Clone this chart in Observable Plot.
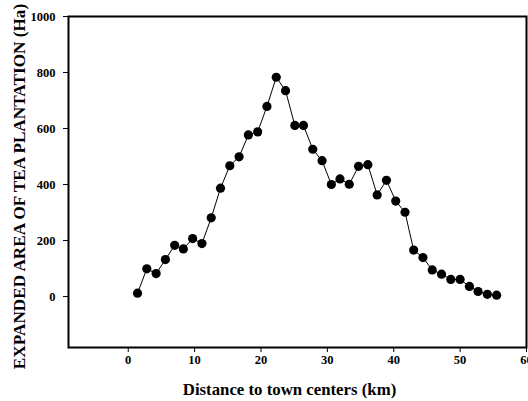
<!DOCTYPE html>
<html><head><meta charset="utf-8">
<script src="https://cdn.jsdelivr.net/npm/d3@7"></script>
<script src="https://cdn.jsdelivr.net/npm/@observablehq/plot@0.6"></script>
<style>
html,body{margin:0;padding:0;background:#fff;overflow:hidden;}
svg g[aria-label="x-axis tick label"], svg g[aria-label="y-axis tick label"] {
  font-size: 12.5px; font-weight: bold; font-family: 'Liberation Serif', 'Times New Roman', serif;
}
</style></head><body><div id="chart"></div>
<script>
const distance = [1.4, 2.8, 4.2, 5.6, 7.0, 8.3, 9.7, 11.1, 12.5, 13.9,
  15.3, 16.7, 18.1, 19.5, 20.9, 22.3, 23.7, 25.1, 26.4, 27.8,
  29.2, 30.6, 31.9, 33.3, 34.7, 36.1, 37.5, 38.9, 40.3, 41.7,
  43.0, 44.4, 45.8, 47.2, 48.6, 50.0, 51.4, 52.7, 54.1, 55.5];
const area = [12, 99, 82, 132, 183, 170, 207, 189, 281, 387,
  467, 499, 577, 588, 679, 783, 735, 611, 611, 526,
  485, 400, 420, 401, 465, 471, 363, 415, 341, 301,
  166, 139, 95, 80, 61, 61, 36, 18, 8, 5];
const xTicks = [0, 10, 20, 30, 40, 50, 60];
const yTicks = [0, 200, 400, 600, 800, 1000];
const xLabel = "Distance to town centers (km)";
const yLabel = "EXPANDED AREA OF TEA PLANTATION (Ha)";

const data = distance.map((d, i) => ({distance: d, area: area[i]}));
const serif = "'Liberation Serif', 'Times New Roman', serif";

const chart = Plot.plot({
  width: 528,
  height: 401,
  marginLeft: 68,
  marginRight: 2,
  marginTop: 16,
  marginBottom: 54,
  style: {
    fontFamily: serif,
    fontSize: "12px",
    fontWeight: "bold",
    color: "#000",
    background: "#fff"
  },
  x: {domain: [-9, 60]},
  y: {domain: [-182, 1000]},
  marks: [
    Plot.axisX(xTicks, {tickSize: 5, tickPadding: 3, label: null, tickFormat: d => String(d), fontSize: 12.5, fontWeight: "bold", fontFamily: serif}),
    Plot.axisY(yTicks, {tickSize: 5, tickPadding: 8, label: null, tickFormat: d => String(d), fontSize: 12.5, fontWeight: "bold", fontFamily: serif}),
    Plot.frame({stroke: "#000", strokeWidth: 2}),
    Plot.line(data, {x: "distance", y: "area", stroke: "#000", strokeWidth: 1}),
    Plot.dot(data, {x: "distance", y: "area", r: 4.6, fill: "#000", stroke: "none"}),
    Plot.text([xLabel], {text: d => d, frameAnchor: "bottom", textAnchor: "middle", dx: -8, dy: 36, lineAnchor: "top", fontSize: 16.8, fontWeight: "bold", fontFamily: serif}),
    Plot.text([yLabel], {text: d => d, frameAnchor: "left", textAnchor: "middle", rotate: -90, dx: -56, dy: 4.5, lineAnchor: "top", fontSize: 17.2, fontWeight: "bold", fontFamily: serif})
  ]
});
document.getElementById("chart").appendChild(chart);
</script>
</body></html>
